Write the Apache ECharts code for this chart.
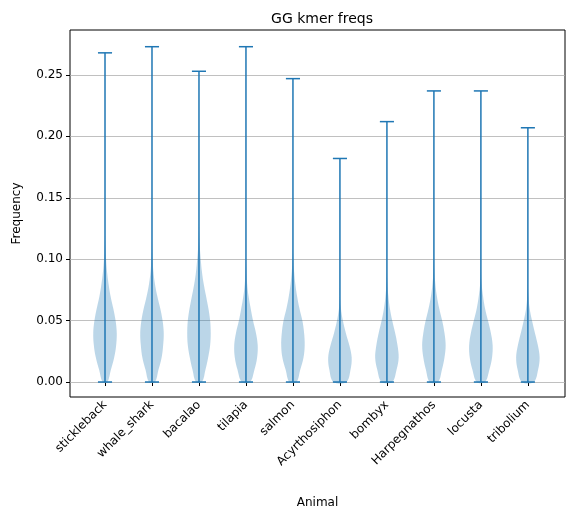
<!DOCTYPE html>
<html>
<head>
<meta charset="utf-8">
<script src="https://cdn.jsdelivr.net/npm/echarts@6/dist/echarts.min.js"></script>
<style>html,body{margin:0;padding:0;background:#fff}#chart{width:579px;height:519px}</style>
</head>
<body>
<div id="chart"></div>
<script>
// Animals along the x axis
var animals = ['stickleback', 'whale_shark', 'bacalao', 'tilapia', 'salmon',
    'Acyrthosiphon', 'bombyx', 'Harpegnathos', 'locusta', 'tribolium'];

// Extremes of each distribution
var minFreq = [0, 0, 0, 0, 0, 0, 0, 0, 0, 0];
var maxFreq = [0.268, 0.273, 0.253, 0.273, 0.247, 0.182, 0.212, 0.237, 0.237, 0.207];

// Frequency levels at which the density was read
var levels = [0, 0.01, 0.02, 0.03, 0.04, 0.05, 0.06, 0.07, 0.08, 0.09, 0.10, 0.11, 0.12, 0.13];

// Relative density (violin half-width, 1 = widest) at each level
var stickleback = [0.2, 0.5, 0.78, 0.95, 1.0, 0.9, 0.7, 0.47, 0.3, 0.17, 0.09, 0.04, 0, 0];
var whale_shark = [0.25, 0.55, 0.82, 0.95, 1.0, 0.9, 0.7, 0.45, 0.25, 0.12, 0.05, 0.01, 0, 0];
var bacalao = [0.25, 0.55, 0.78, 0.95, 1.0, 0.95, 0.8, 0.6, 0.4, 0.25, 0.15, 0.07, 0.02, 0];
var tilapia = [0.35, 0.72, 0.95, 1.0, 0.85, 0.6, 0.4, 0.22, 0.1, 0.04, 0, 0, 0, 0];
var salmon = [0.3, 0.62, 0.9, 1.0, 0.95, 0.8, 0.55, 0.35, 0.2, 0.1, 0.03, 0, 0, 0];
var acyrthosiphon = [0.55, 0.9, 1.0, 0.8, 0.5, 0.25, 0.08, 0, 0, 0, 0, 0, 0, 0];
var bombyx = [0.45, 0.82, 1.0, 0.9, 0.7, 0.45, 0.25, 0.12, 0.04, 0, 0, 0, 0, 0];
var harpegnathos = [0.35, 0.68, 0.9, 1.0, 0.9, 0.7, 0.45, 0.25, 0.12, 0.04, 0, 0, 0, 0];
var locusta = [0.35, 0.72, 0.95, 1.0, 0.85, 0.6, 0.35, 0.18, 0.06, 0.01, 0, 0, 0, 0];
var tribolium = [0.5, 0.87, 1.0, 0.85, 0.6, 0.35, 0.15, 0.05, 0, 0, 0, 0, 0, 0];
var profiles = [stickleback, whale_shark, bacalao, tilapia, salmon,
    acyrthosiphon, bombyx, harpegnathos, locusta, tribolium];

// Tick labels
var yTicks = [0, 0.05, 0.10, 0.15, 0.20, 0.25];
var xTicks = [1, 2, 3, 4, 5, 6, 7, 8, 9, 10];

var blue = '#1f77b4';
var font = 'DejaVu Sans, sans-serif';

var chart = echarts.init(document.getElementById('chart'));

var renderViolin = function(params, api) {
    var i = params.dataIndex;
    var pos = api.value(0);
    var prof = profiles[i];
    var halfW = 0.25, capW = 0.15;
    var right = [], left = [];
    for (var k = 0; k < levels.length; k++) {
        if (levels[k] > maxFreq[i]) break;
        right.push(api.coord([pos + prof[k] * halfW, levels[k]]));
    }
    for (var k2 = right.length - 1; k2 >= 0; k2--) {
        left.push(api.coord([pos - prof[k2] * halfW, levels[k2]]));
    }
    var top = api.coord([pos, maxFreq[i]]);
    var bot = api.coord([pos, minFreq[i]]);
    var capL = api.coord([pos - capW, 0])[0];
    var capR = api.coord([pos + capW, 0])[0];
    var line = { stroke: blue, lineWidth: 1.5 };
    return {
        type: 'group',
        children: [
            { type: 'polygon', shape: { points: right.concat(left), smooth: 0.35 },
              style: { fill: 'rgba(31,119,180,0.3)', stroke: 'none' } },
            { type: 'line', shape: { x1: top[0], y1: top[1], x2: bot[0], y2: bot[1] }, style: line },
            { type: 'line', shape: { x1: capL, y1: top[1], x2: capR, y2: top[1] }, style: line },
            { type: 'line', shape: { x1: capL, y1: bot[1], x2: capR, y2: bot[1] }, style: line }
        ]
    };
};

chart.setOption({
    animation: false,
    textStyle: { fontFamily: font },
    title: {
        text: 'GG kmer freqs',
        left: 317, top: 7, textAlign: 'center',
        textStyle: { fontFamily: font, fontSize: 14, fontWeight: 'normal', color: '#000' }
    },
    grid: { left: 70, right: 14, top: 30, bottom: 122, show: true, borderColor: '#000', borderWidth: 1 },
    xAxis: {
        type: 'value', min: 0.255, max: 10.79,
        name: 'Animal', nameLocation: 'middle', nameGap: 100,
        nameTextStyle: { color: '#000', fontSize: 12, fontFamily: font },
        axisLine: { show: false },
        splitLine: { show: false },
        axisTick: { show: true, customValues: xTicks, length: 4, lineStyle: { color: '#000' } },
        axisLabel: {
            customValues: xTicks, rotate: 45, color: '#000', fontSize: 12, margin: 6,
            formatter: function(v) { return animals[Math.round(v) - 1]; }
        }
    },
    yAxis: {
        type: 'value', min: -0.0122, max: 0.2866,
        name: 'Frequency', nameLocation: 'middle', nameGap: 47, nameRotate: 90,
        nameTextStyle: { color: '#000', fontSize: 12, fontFamily: font },
        axisLine: { show: false },
        splitLine: { show: false },
        axisTick: { show: true, customValues: yTicks, length: 4, lineStyle: { color: '#000' } },
        axisLabel: {
            customValues: yTicks, color: '#000', fontSize: 12, margin: 7,
            formatter: function(v) { return v.toFixed(2); }
        }
    },
    series: [
        {
            type: 'custom',
            renderItem: renderViolin,
            data: xTicks.map(function(p, i) { return [p, maxFreq[i]]; }),
            z: 3,
            markLine: {
                silent: true, symbol: 'none', label: { show: false },
                lineStyle: { color: '#b0b0b0', type: 'solid', width: 0.8 },
                data: yTicks.map(function(v) { return { yAxis: v }; }),
                z: 1
            }
        }
    ]
});
</script>
</body>
</html>
